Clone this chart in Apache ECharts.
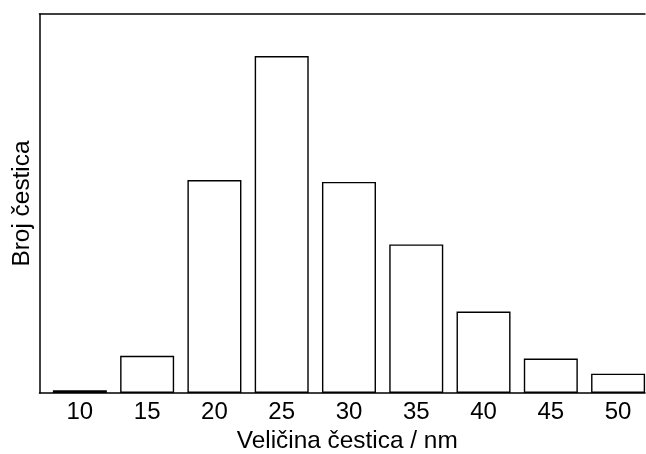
<!DOCTYPE html>
<html>
<head>
<meta charset="utf-8">
<script src="https://cdn.jsdelivr.net/npm/echarts@6/dist/echarts.min.js"></script>
<style>html,body{margin:0;padding:0;background:#fff}#c{width:646px;height:454px}</style>
</head>
<body>
<div id="c"></div>
<script>
const categories = [10, 15, 20, 25, 30, 35, 40, 45, 50];
const counts = [0.7, 9.8, 56.2, 88.9, 55.7, 39.2, 21.5, 9.1, 5.1];
const xName = 'Veličina čestica / nm';
const yName = 'Broj čestica';

const chart = echarts.init(document.getElementById('c'), null, {renderer: 'canvas'});
const font = 'Liberation Sans, Arial, sans-serif';
const barData = categories.map((c, i) => [c, counts[i]]);
chart.setOption({
  animation: false,
  backgroundColor: '#fff',
  grid: {left: 39.5, right: 1, top: 14, bottom: 61, outerBoundsMode: 'none', containLabel: false},
  xAxis: [{
    type: 'value',
    min: 7,
    max: 52,
    axisTick: {show: false},
    splitLine: {show: false},
    axisLine: {lineStyle: {color: '#000', width: 1.5}},
    axisLabel: {color: '#000', fontSize: 24, fontFamily: font, margin: 7,
      customValues: categories},
    name: xName,
    nameLocation: 'middle',
    nameGap: 36,
    nameTextStyle: {color: '#000', fontSize: 24.4, fontFamily: font, padding: [0, 0, 0, 10]}
  }, {
    type: 'value',
    min: 7,
    max: 52,
    position: 'top',
    axisTick: {show: false},
    axisLabel: {show: false},
    splitLine: {show: false},
    axisLine: {show: true, onZero: false, lineStyle: {color: '#000', width: 1.5}}
  }],
  yAxis: {
    type: 'value',
    min: 0,
    max: 100,
    axisLine: {show: true, lineStyle: {color: '#000', width: 1.5}},
    axisTick: {show: false},
    axisLabel: {show: false},
    splitLine: {show: false},
    name: yName,
    nameLocation: 'middle',
    nameGap: 5,
    nameTextStyle: {color: '#000', fontSize: 24.4, fontFamily: font}
  },
  series: [{
    type: 'bar',
    data: barData,
    xAxisIndex: 0,
    barWidth: 54,
    itemStyle: {color: '#fff', borderColor: '#000', borderWidth: 1.4}
  }]
});
</script>
</body>
</html>
